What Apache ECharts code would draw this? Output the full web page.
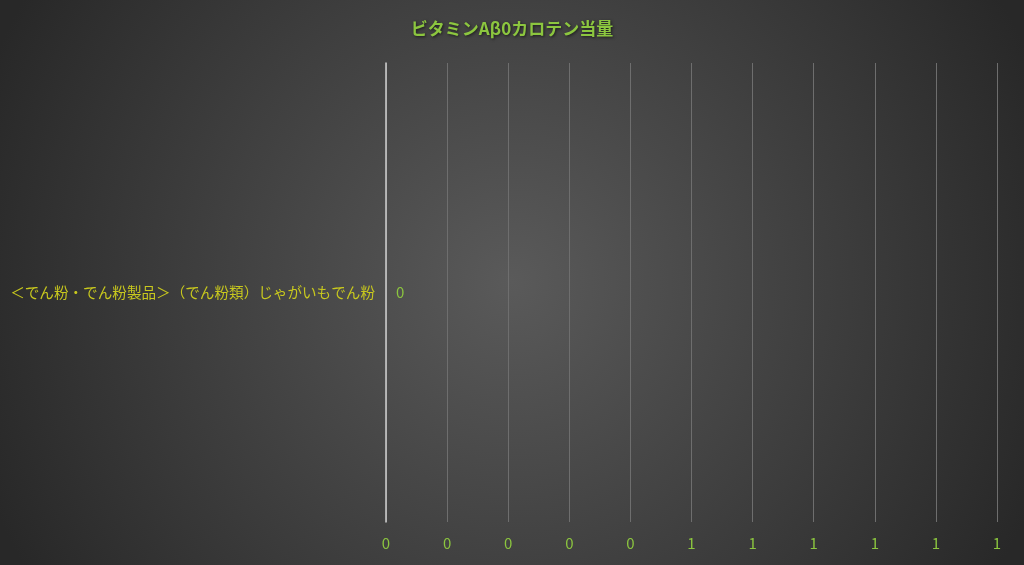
<!DOCTYPE html>
<html>
<head>
<meta charset="utf-8">
<script src="https://cdn.jsdelivr.net/npm/echarts@6/dist/echarts.min.js"></script>
<style>
  html, body { margin: 0; padding: 0; }
  #main { width: 1024px; height: 565px; }
</style>
</head>
<body>
<div id="main"></div>
<script>
// データ
const categories = ['＜でん粉・でん粉製品＞（でん粉類）じゃがいもでん粉'];
const values = [0];
const titleText = 'ビタミンAβ0カロテン当量';

const chart = echarts.init(document.getElementById('main'));

const option = {
  backgroundColor: {
    type: 'radial',
    x: 0.5, y: 0.5, r: 1.0,
    colorStops: [
      { offset: 0, color: '#5a5a5a' },
      { offset: 1, color: '#282828' }
    ]
  },
  title: {
    text: titleText,
    left: 'center',
    top: 15,
    textStyle: {
      color: '#8cc63f',
      fontSize: 17,
      fontWeight: 'bold',
      fontFamily: 'Noto Sans CJK JP',
      textShadowColor: 'rgba(0,0,0,0.6)',
      textShadowBlur: 3,
      textShadowOffsetX: 1,
      textShadowOffsetY: 1
    }
  },
  grid: {
    left: 386,
    right: 27,
    top: 63,
    bottom: 43
  },
  xAxis: {
    type: 'value',
    min: 0,
    max: 1,
    interval: 0.1,
    axisLine: { show: false },
    axisTick: { show: false },
    splitLine: { lineStyle: { color: '#6e6e6e', width: 1 } },
    axisLabel: {
      color: '#8cc63f',
      fontSize: 15,
      margin: 14,
      fontFamily: 'Noto Sans CJK JP',
      formatter: v => Math.round(v).toString()
    }
  },
  yAxis: {
    type: 'category',
    data: categories,
    axisLine: { show: true, lineStyle: { color: '#d0d0d0', width: 1.5 } },
    axisTick: { show: false },
    axisLabel: {
      color: '#c8c81e',
      fontSize: 14.6,
      margin: 11,
      fontFamily: 'Noto Sans CJK JP'
    }
  },
  series: [{
    type: 'bar',
    data: values,
    barWidth: '60%',
    itemStyle: { color: '#8cc63f' },
    label: {
      show: true,
      position: 'right',
      distance: 10,
      color: '#8cc63f',
      fontSize: 15,
      fontFamily: 'Noto Sans CJK JP'
    }
  }]
};

chart.setOption(option);
</script>
</body>
</html>
